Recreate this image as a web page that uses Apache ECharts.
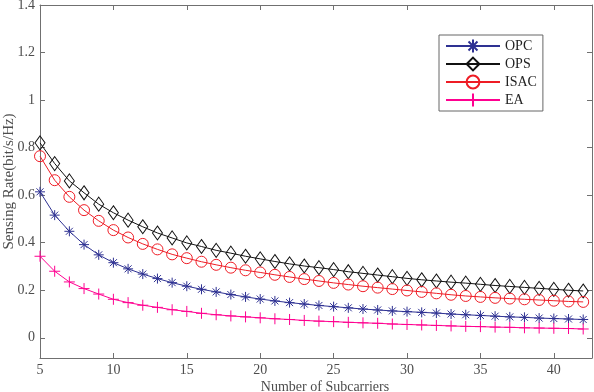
<!DOCTYPE html>
<html style="height: 100%">

<head>
    <meta charset="utf-8">
    <script src="https://cdn.jsdelivr.net/npm/echarts@6/dist/echarts.min.js"></script>
</head>

<body style="height: 100%; margin: 0; background: #fff">
    <div id="chart" style="width: 594px; height: 392px"></div>
    <script type="text/javascript">
        var subcarriers = [];
        for (var n = 5; n <= 42; n++) subcarriers.push(n);

        var opc = [0.614, 0.516, 0.448, 0.392, 0.349, 0.316, 0.290, 0.268, 0.249, 0.232,
            0.217, 0.204, 0.193, 0.182, 0.172, 0.163, 0.155, 0.148, 0.142, 0.136,
            0.131, 0.126, 0.121, 0.117, 0.113, 0.110, 0.107, 0.104, 0.100, 0.097,
            0.094, 0.091, 0.088, 0.086, 0.083, 0.081, 0.079, 0.077];
        var ops = [0.820, 0.733, 0.660, 0.610, 0.562, 0.526, 0.495, 0.467, 0.441, 0.420,
            0.399, 0.384, 0.368, 0.356, 0.343, 0.332, 0.321, 0.311, 0.302, 0.295,
            0.287, 0.278, 0.271, 0.264, 0.257, 0.250, 0.244, 0.239, 0.234, 0.230,
            0.225, 0.220, 0.216, 0.212, 0.208, 0.204, 0.200, 0.197];
        var isac = [0.764, 0.663, 0.593, 0.537, 0.492, 0.453, 0.422, 0.395, 0.372, 0.351,
            0.335, 0.320, 0.307, 0.295, 0.284, 0.275, 0.265, 0.256, 0.247, 0.239,
            0.231, 0.224, 0.217, 0.211, 0.205, 0.199, 0.193, 0.187, 0.181, 0.176,
            0.172, 0.168, 0.165, 0.162, 0.159, 0.156, 0.153, 0.151];
        var ea = [0.343, 0.280, 0.235, 0.207, 0.184, 0.162, 0.148, 0.137, 0.128, 0.118,
            0.111, 0.103, 0.097, 0.092, 0.088, 0.084, 0.080, 0.077, 0.073, 0.070,
            0.068, 0.065, 0.063, 0.061, 0.058, 0.056, 0.054, 0.052, 0.050, 0.048,
            0.047, 0.045, 0.044, 0.042, 0.041, 0.040, 0.039, 0.037];

        var xTicks = [5, 10, 15, 20, 25, 30, 35, 40];
        var yTicks = [0, 0.2, 0.4, 0.6, 0.8, 1, 1.2, 1.4];

        var font = 'Liberation Serif';
        var axisColor = '#707070';
        var labelColor = '#4d4d4d';

        var starPath = 'path://M5 0L5 10M0 5L10 5M1.5 1.5L8.5 8.5M8.5 1.5L1.5 8.5';
        var plusPath = 'path://M5 0L5 10M0 5L10 5';

        function pairs(ys) {
            return ys.map(function (y, i) { return [subcarriers[i], y]; });
        }

        function makeSeries(name, ys, color, symbol, size) {
            return {
                name: name,
                type: 'line',
                data: pairs(ys),
                symbol: symbol,
                symbolSize: size,
                showAllSymbol: true,
                lineStyle: { color: color, width: 1 },
                itemStyle: { color: 'rgba(0,0,0,0)', borderColor: color, borderWidth: 1 },
                emphasis: { disabled: true }
            };
        }

        function xAxisDef(pos, labels) {
            return {
                type: 'value', position: pos, min: 5, max: 42.6,
                name: labels ? 'Number of Subcarriers' : '',
                nameLocation: 'middle', nameGap: 22, nameMoveOverlap: false,
                nameTextStyle: { fontFamily: font, fontSize: 14, color: labelColor, padding: [0, 0, 0, 18] },
                axisLine: { show: true, onZero: false, lineStyle: { color: axisColor, width: 1 } },
                axisTick: { show: true, inside: true, length: 5, customValues: xTicks, lineStyle: { color: axisColor } },
                axisLabel: { show: labels, customValues: xTicks, margin: 5, fontFamily: font, fontSize: 14, color: labelColor },
                splitLine: { show: false }
            };
        }

        function yAxisDef(pos, labels) {
            return {
                type: 'value', position: pos, min: -0.085, max: 1.4,
                name: labels ? 'Sensing Rate(bit/s/Hz)' : '',
                nameLocation: 'middle', nameGap: 23, nameMoveOverlap: false,
                nameTextStyle: { fontFamily: font, fontSize: 15, color: labelColor },
                axisLine: { show: true, onZero: false, lineStyle: { color: axisColor, width: 1 } },
                axisTick: { show: true, inside: true, length: 5, customValues: yTicks, lineStyle: { color: axisColor } },
                axisLabel: { show: labels, customValues: yTicks, margin: 5, fontFamily: font, fontSize: 14, color: labelColor },
                splitLine: { show: false }
            };
        }

        var myChart = echarts.init(document.getElementById('chart'));
        myChart.setOption({
            animation: false,
            grid: { left: 40, right: 2, top: 5, bottom: 34, containLabel: false, outerBoundsMode: 'none' },
            legend: {
                orient: 'vertical',
                left: 439, top: 35,
                padding: [3, 6, 3, 6],
                itemWidth: 54, itemHeight: 16, itemGap: 2,
                borderColor: '#666', borderWidth: 1, backgroundColor: '#fff',
                textStyle: { fontFamily: font, fontSize: 14, color: '#222', lineHeight: 16 },
                data: ['OPC', 'OPS', 'ISAC', 'EA']
            },
            xAxis: [xAxisDef('bottom', true), xAxisDef('top', false)],
            yAxis: [yAxisDef('left', true), yAxisDef('right', false)],
            series: [
                makeSeries('OPC', opc, '#2e3192', starPath, 10),
                makeSeries('OPS', ops, '#111111', 'diamond', [10, 14]),
                makeSeries('ISAC', isac, '#ee1c25', 'circle', 11),
                makeSeries('EA', ea, '#ff0090', plusPath, 11)
            ]
        });
    </script>
</body>

</html>
